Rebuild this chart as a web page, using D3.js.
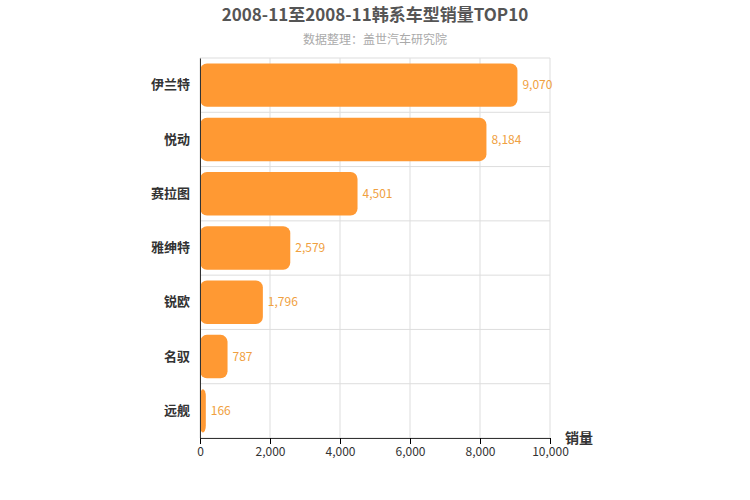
<!DOCTYPE html>
<html><head><meta charset="utf-8">
<script src="https://cdn.jsdelivr.net/npm/d3@7"></script>
<style>body{margin:0;font-family:"Noto Sans CJK SC",sans-serif;}</style>
</head><body><svg id="c" width="750" height="500"></svg>
<script>
const categories = ['伊兰特', '悦动', '赛拉图', '雅绅特', '锐欧', '名驭', '远舰'];
const sales = [9070, 8184, 4501, 2579, 1796, 787, 166];
const xTicks = [0, 2000, 4000, 6000, 8000, 10000];

const svg = d3.select('#c');
const margin = { top: 58, right: 200, bottom: 62, left: 200 };
const width = 750, height = 500;

const x = d3.scaleLinear().domain([0, 10000]).range([margin.left, width - margin.right]);
const y = d3.scaleBand().domain(categories).range([margin.top, height - margin.bottom]).paddingInner(0.2).paddingOuter(0.1);

// vertical grid
svg.append('g').selectAll('line').data(xTicks).join('line')
  .attr('x1', d => x(d)).attr('x2', d => x(d))
  .attr('y1', margin.top).attr('y2', height - margin.bottom)
  .attr('stroke', '#ddd');
// horizontal band separators
const step = y.step();
const bounds = d3.range(categories.length + 1).map(i => margin.top + i * (height - margin.top - margin.bottom) / categories.length);
svg.append('g').selectAll('line').data(bounds).join('line')
  .attr('x1', margin.left).attr('x2', x(10000))
  .attr('y1', d => d).attr('y2', d => d)
  .attr('stroke', '#ddd');

svg.append('g').selectAll('rect').data(sales).join('rect')
  .attr('x', x(0)).attr('y', (d, i) => y(categories[i]))
  .attr('width', d => x(d) - x(0)).attr('height', y.bandwidth())
  .attr('rx', 7).attr('fill', '#ff9933');

svg.append('g').selectAll('text').data(sales).join('text')
  .attr('x', d => x(d) + 5).attr('y', (d, i) => y(categories[i]) + y.bandwidth() / 2)
  .attr('dy', '0.35em').attr('font-size', 12).attr('fill', '#f0a040')
  .text(d => d3.format(',')(d));

const ax = svg.append('g').attr('transform', `translate(0,${height - margin.bottom})`)
  .call(d3.axisBottom(x).tickValues(xTicks).tickFormat(d3.format(',')).tickSizeOuter(0));
ax.selectAll('text').attr('font-size', 12).attr('fill', '#333').attr('font-family', 'Noto Sans CJK SC');
ax.select('.domain').attr('stroke', '#333');

const ay = svg.append('g').attr('transform', `translate(${margin.left},0)`)
  .call(d3.axisLeft(y).tickSize(0).tickPadding(10));
ay.selectAll('text').attr('font-size', 13).attr('font-weight', 'bold').attr('fill', '#333').attr('font-family', 'Noto Sans CJK SC');
ay.select('.domain').attr('stroke', '#333');

svg.append('text').attr('x', 375).attr('y', 21).attr('text-anchor', 'middle')
  .attr('font-size', 17).attr('font-weight', 'bold').attr('fill', '#555')
  .text('2008-11至2008-11韩系车型销量TOP10');
svg.append('text').attr('x', 375).attr('y', 44).attr('text-anchor', 'middle')
  .attr('font-size', 12).attr('fill', '#aaa').text('数据整理：盖世汽车研究院');
svg.append('text').attr('x', 565).attr('y', 443)
  .attr('font-size', 14).attr('font-weight', 'bold').attr('fill', '#333').text('销量');
</script></body></html>
